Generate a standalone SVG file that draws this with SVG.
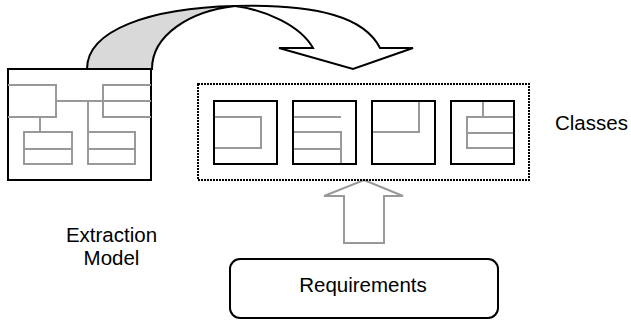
<svg xmlns="http://www.w3.org/2000/svg" width="631" height="321" viewBox="0 0 631 321">
<style>
.blk{fill:none;stroke:#000;stroke-width:2}
.gry{fill:none;stroke:#999;stroke-width:2}
.txt{font-family:"Liberation Sans",Arial,sans-serif;font-size:20.5px;fill:#000}
</style>
<rect width="631" height="321" fill="#fff"/>
<g id="connectors">
<path id="curved-arrow-band" d="M87,69 C87,30 150,8 235,6 C190,11 152,35 152,69 Z" fill="#d9d9d9" stroke="#000" stroke-width="2"/>
<path id="curved-arrow-head" d="M235,6 C320,4 365,18 380,48 L413,48 L353,69 L279,48 L313,48 C300,25 265,10 235,6 Z" fill="#fff" stroke="#000" stroke-width="2" stroke-linejoin="miter"/>
<path id="up-arrow" d="M364,180 L403,196 L384,196 L384,243 L344,243 L344,196 L324,196 Z" fill="#fff" stroke="#999" stroke-width="2"/>
</g>
<g id="extraction-model">
<rect x="8" y="69" width="143" height="111" fill="#fff" stroke="#000" stroke-width="2"/>
<path class="gry" d="M8,85 H56 V117 H8 M151,85 H103 V117 H151 M103,101 H151 M56,101 H103 M88,101 V132 M40,117 V132"/>
<rect class="gry" x="24" y="132" width="48" height="32"/>
<path class="gry" d="M24,149 H72"/>
<rect class="gry" x="88" y="132" width="47" height="32"/>
<path class="gry" d="M88,149 H135"/>
<text class="txt" x="111.5" y="242" text-anchor="middle">Extraction</text>
<text class="txt" x="111.5" y="265" text-anchor="middle">Model</text>
</g>
<g id="classes">
<rect x="198" y="84" width="331" height="96" fill="none" stroke="#000" stroke-width="2" stroke-dasharray="2,1"/>
<g id="class1">
<path class="gry" d="M214,117 H261 V148 H214"/>
<rect class="blk" x="214" y="101" width="63" height="63"/>
</g>
<g id="class2">
<path class="gry" d="M293,117 H341 M293,132 H341 V164 M293,149 H341"/>
<rect class="blk" x="293" y="101" width="63" height="63"/>
</g>
<g id="class3">
<path class="gry" d="M419,101 V132 H372"/>
<rect class="blk" x="372" y="101" width="63" height="63"/>
</g>
<g id="class4">
<path class="gry" d="M483,101 V117 M514,117 H467 V148 H514 M467,133 H514"/>
<rect class="blk" x="451" y="101" width="63" height="63"/>
</g>
<text class="txt" x="555" y="130">Classes</text>
</g>
<g id="requirements">
<rect x="230" y="259" width="268" height="59" rx="10" ry="10" fill="#fff" stroke="#000" stroke-width="2"/>
<text class="txt" x="363" y="292" text-anchor="middle">Requirements</text>
</g>
</svg>
